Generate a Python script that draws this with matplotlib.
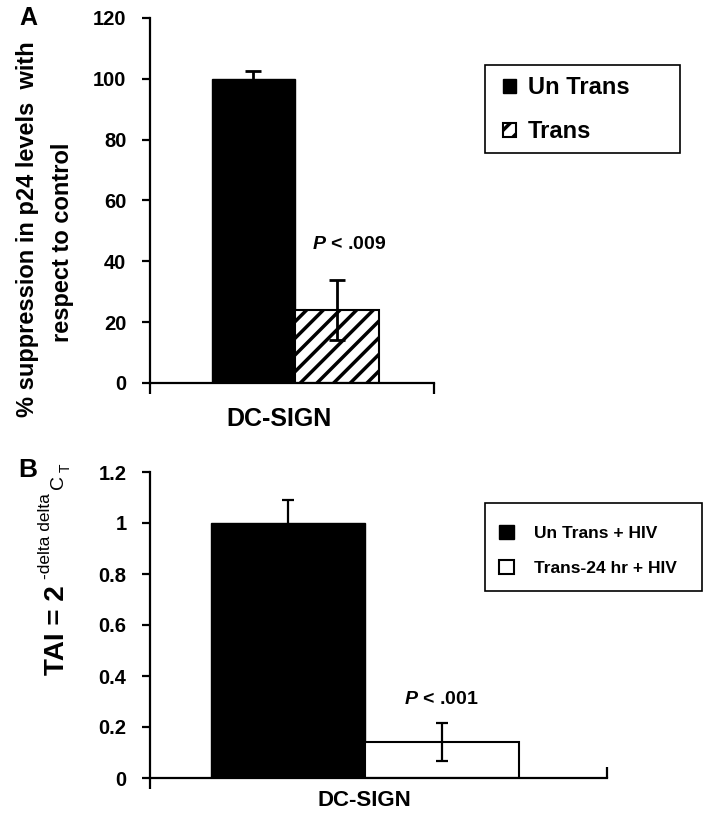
import numpy as np
import matplotlib.pyplot as plt
from matplotlib.patches import Rectangle

plt.rcParams.update({'font.family': 'Liberation Sans', 'font.weight': 'bold',
                     'hatch.linewidth': 2.5, 'mathtext.fontset': 'custom',
                     'mathtext.rm': 'Liberation Sans', 'mathtext.bf': 'Liberation Sans:bold',
                     'mathtext.it': 'Liberation Sans:italic:bold'})

# panel A data
groupA = 'DC-SIGN'
seriesA = ['Un Trans', 'Trans']
valuesA = [100, 24]
errorsA = [2.7, 9.7]
yticksA = [0, 20, 40, 60, 80, 100, 120]
pA = '$P$ < .009'

# panel B data
groupB = 'DC-SIGN'
seriesB = ['Un Trans + HIV', 'Trans-24 hr + HIV']
valuesB = [1.0, 0.14]
errorsB = [0.09, 0.075]
yticksB = [0, 0.2, 0.4, 0.6, 0.8, 1.0, 1.2]
ytickLabelsB = ['0', '0.2', '0.4', '0.6', '0.8', '1', '1.2']
pB = '$P$ < .001'

W, H = 709, 815
fig = plt.figure(figsize=(W / 100, H / 100), dpi=100)

def px(x0, y0, x1, y1):
    # pixel box -> figure fraction rect
    return [x0 / W, 1 - y1 / H, (x1 - x0) / W, (y1 - y0) / H]

def style_axis(ax):
    for s in ['top', 'right']:
        ax.spines[s].set_visible(False)
    for s in ['left', 'bottom']:
        ax.spines[s].set_linewidth(1.6)
    ax.tick_params(axis='y', direction='out', length=6, width=1.6, labelsize=14.5, pad=11)
    ax.set_xlim(0, 1)

def box(x0, y0, x1, y1):
    fig.patches.append(Rectangle((x0 / W, 1 - y1 / H), (x1 - x0) / W, (y1 - y0) / H,
                                 transform=fig.transFigure, fill=False,
                                 edgecolor='black', linewidth=1.2))

# ---- panel A ----
axA = fig.add_axes(px(150, 18, 434, 383))
style_axis(axA)
wA = 0.294
posA = [0.5106 - wA / 2, 0.5106 + wA / 2]
b1 = axA.bar(posA[0], valuesA[0], wA, color='black', edgecolor='black', label=seriesA[0])
b2 = axA.bar(posA[1], valuesA[1], wA, color='white', edgecolor='black', linewidth=1.5,
             hatch='//', label=seriesA[1])
axA.errorbar(posA, valuesA, yerr=errorsA, fmt='none', ecolor='black', elinewidth=2,
             capsize=6, capthick=2)
axA.set_ylim(0, 120)
axA.set_yticks(yticksA)
axA.set_xticks([0, 1])
axA.set_xticklabels([])
axA.tick_params(axis='x', direction='out', length=8, width=1.6)
axA.text(0.455, -0.1, groupA, transform=axA.transAxes, ha='center', va='center', fontsize=18)
axA.text(0.70, 45.4, pA, ha='center', va='center', fontsize=14)

fig.text(28 / W, 1 - 229 / H, '% suppression in p24 levels  with', rotation=90,
         ha='center', va='center', fontsize=17)
fig.text(63 / W, 1 - 242 / H, 'respect to control', rotation=90,
         ha='center', va='center', fontsize=17)
fig.text(28 / W, 1 - 18 / H, 'A', ha='center', va='center', fontsize=18)

box(485, 65, 680, 153)
fig.legend([b1, b2], seriesA, loc='upper left', bbox_to_anchor=(503 / W, 1 - 76 / H),
           fontsize=17, frameon=False, handlelength=0.55, handleheight=0.55,
           handletextpad=0.5, borderpad=0, labelspacing=0.9, borderaxespad=0)

# ---- panel B ----
axB = fig.add_axes(px(150, 472, 607, 778))
style_axis(axB)
wB = 0.337
posB = [0.4705 - wB / 2, 0.4705 + wB / 2]
c1 = axB.bar(posB[0], valuesB[0], wB, color='black', edgecolor='black', label=seriesB[0])
c2 = axB.bar(posB[1], valuesB[1], wB, color='white', edgecolor='black', linewidth=1.5,
             label=seriesB[1])
axB.errorbar(posB, valuesB, yerr=errorsB, fmt='none', ecolor='black', elinewidth=1.6,
             capsize=4.5, capthick=1.6)
axB.set_ylim(0, 1.2)
axB.set_yticks(yticksB)
axB.set_yticklabels(ytickLabelsB)
axB.set_xticks([0])
axB.set_xticklabels([])
axB.tick_params(axis='x', which='major', direction='out', length=8, width=1.6)
axB.set_xticks([1], minor=True)
axB.tick_params(axis='x', which='minor', direction='in', length=8, width=1.6)
axB.text(0.47, -0.075, groupB, transform=axB.transAxes, ha='center', va='center', fontsize=16)
axB.text(0.637, 0.306, pB, ha='center', va='center', fontsize=14)

# y label of B built from pieces: base, superscript, C with subscript T
fig.text(57 / W, 1 - 675 / H, 'TAI = 2', rotation=90, ha='center', va='bottom', fontsize=20)
fig.text(46 / W, 1 - 579 / H, '-delta delta', rotation=90, ha='center', va='bottom',
         fontsize=12.5, fontweight='normal')
fig.text(59 / W, 1 - 489 / H, 'C', rotation=90, ha='center', va='bottom',
         fontsize=14, fontweight='normal')
fig.text(66 / W, 1 - 472 / H, 'T', rotation=90, ha='center', va='bottom',
         fontsize=10, fontweight='normal')
fig.text(28 / W, 1 - 470 / H, 'B', ha='center', va='center', fontsize=19)

box(485, 503, 702, 591)
fig.legend([c1, c2], seriesB, loc='upper left', bbox_to_anchor=(499 / W, 1 - 525 / H),
           fontsize=12.5, frameon=False, handlelength=0.85, handleheight=0.85,
           handletextpad=1.15, borderpad=0, labelspacing=1.1, borderaxespad=0)

fig.savefig('out.png', dpi=100)
